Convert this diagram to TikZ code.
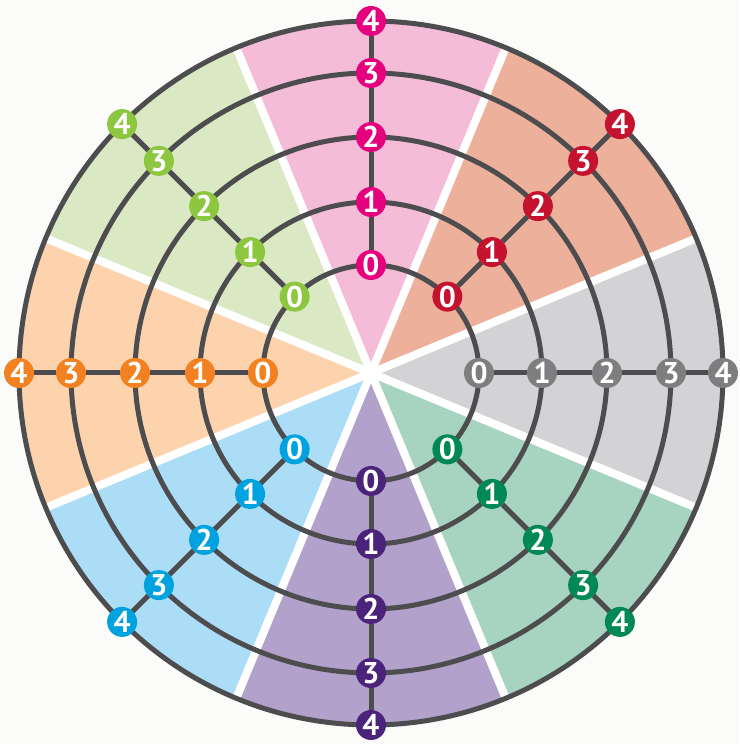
\documentclass[tikz,border=0pt]{standalone}
\usepackage{fontspec}
\setsansfont{PT Sans}
\usetikzlibrary{calc}
\definecolor{ringc}{HTML}{4D4D4F}
\definecolor{bgc}{HTML}{FBFBF9}
% stop colours and sector colours
\definecolor{grayn}{HTML}{7E7E80}   \definecolor{grays}{HTML}{D3D3D5}
\definecolor{redn}{HTML}{C4122F}    \definecolor{reds}{HTML}{EDB09B}
\definecolor{pinkn}{HTML}{E5007D}   \definecolor{pinks}{HTML}{F5BCD7}
\definecolor{limen}{HTML}{8DC63F}   \definecolor{limes}{HTML}{DAE8C3}
\definecolor{orangen}{HTML}{F28121} \definecolor{oranges}{HTML}{FDD3AE}
\definecolor{bluen}{HTML}{00A3E0}   \definecolor{blues}{HTML}{ACDDF6}
\definecolor{purplen}{HTML}{4B237A} \definecolor{purples}{HTML}{B2A1CA}
\definecolor{greenn}{HTML}{008856}  \definecolor{greens}{HTML}{A7D3C1}
\tikzset{
  ring/.style={draw=ringc,line width=5pt},
  spoke/.style={draw=ringc,line width=5pt},
  gap/.style={draw=white,line width=8pt},
  stopnode/.style={circle,inner sep=0pt,outer sep=0pt,minimum size=30pt,text=white,
    font=\sffamily\bfseries\fontsize{30}{30}\selectfont}
}
\begin{document}
\begin{tikzpicture}[x=1pt,y=1pt]
\fill[bgc] (0,0) rectangle (739,744);
\useasboundingbox (0,0) rectangle (739,744);
\coordinate (o) at (371,371);
% sectors
\foreach \ang/\col in {0/grays,45/reds,90/pinks,135/limes,180/oranges,225/blues,270/purples,315/greens}{
  \fill[\col] (o) -- ($(o)+(\ang-22.5:352)$) arc[start angle=\ang-22.5,end angle=\ang+22.5,radius=352] -- cycle;
}
% white gaps between sectors
\foreach \ang in {22.5,67.5,112.5,157.5}{
  \draw[gap] ($(o)+(\ang:352)$) -- ($(o)+(\ang+180:352)$);
}
% rings
\foreach \r in {108,171,236,300,352}{
  \draw[ring] (o) circle[radius=\r];
}
% stops
\foreach \ang/\nm in {0/gray,45/red,90/pink,135/lime,180/orange,225/blue,270/purple,315/green}{
  \foreach \r [count=\i from 0] in {108,171,236,300,352}{
    \node[stopnode,fill=\nm n] (\nm-\i) at ($(o)+(\ang:\r)$) {\i};
  }
  \draw[spoke] (\nm-0) -- (\nm-1) -- (\nm-2) -- (\nm-3) -- (\nm-4);
}
\end{tikzpicture}
\end{document}
